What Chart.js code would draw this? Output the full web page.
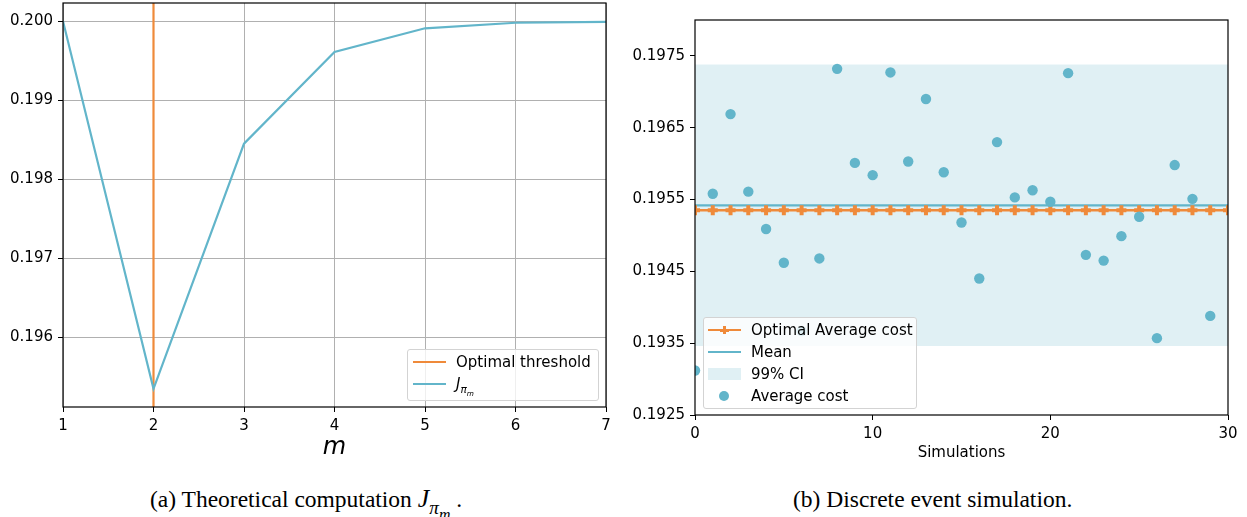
<!DOCTYPE html>
<html>
<head>
<meta charset="utf-8">
<script src="https://cdn.jsdelivr.net/npm/chart.js@4.4.0/dist/chart.umd.min.js"></script>
<style>
    body { margin: 0; background: #fff; width: 1247px; height: 517px; position: relative; overflow: hidden; font-family: "DejaVu Sans", sans-serif; color: #000; }
    canvas { position: absolute; top: 0; }
    #chartA { left: 0; }
    #chartB { left: 620px; }
    .legend { position: absolute; background: rgba(255,255,255,0.8); border: 1px solid #d3d3d3; border-radius: 3px; font-size: 15px; }
    .row { position: absolute; left: 0; right: 0; height: 22px; line-height: 22px; }
    .row .txt { position: absolute; white-space: nowrap; }
    .hline { position: absolute; height: 2px; top: 10px; }
    .caption { position: absolute; top: 485px; line-height: 28px; font-family: "Liberation Serif", "Times New Roman", serif; font-size: 23.5px; white-space: nowrap; }
    sub { font-size: 70%; vertical-align: -0.35em; line-height: 0; }
    .caption .mj { font-size: 110%; }
    .caption sub { font-size: 82%; }
</style>
</head>
<body>
<canvas id="chartA" width="620" height="470"></canvas>
<canvas id="chartB" width="627" height="470"></canvas>

<div class="legend" style="left:407px;top:349px;width:190px;height:50px;">
    <div class="row" style="top:1px;"><div class="hline" style="left:5px;width:33px;background:#ef8a3a;"></div><span class="txt" style="left:48px;">Optimal threshold</span></div>
    <div class="row" style="top:23px;"><div class="hline" style="left:5px;width:33px;background:#62b5ca;"></div><span class="txt" style="left:48px;font-style:italic;">J<sub>π<sub>m</sub></sub></span></div>
</div>

<div class="legend" style="left:703px;top:317px;width:212px;height:90px;">
    <div class="row" style="top:1px;">
        <div class="hline" style="left:4px;width:33px;background:#ef8a3a;"></div>
        <div style="position:absolute;left:16px;top:7px;width:9px;height:8px;">
            <div style="position:absolute;left:3px;top:0;width:3px;height:8px;background:#ef8a3a;"></div>
            <div style="position:absolute;left:0;top:2.5px;width:9px;height:3px;background:#ef8a3a;"></div>
        </div>
        <span class="txt" style="left:47px;">Optimal Average cost</span>
    </div>
    <div class="row" style="top:23px;"><div class="hline" style="left:4px;width:33px;background:#62b5ca;"></div><span class="txt" style="left:47px;">Mean</span></div>
    <div class="row" style="top:45px;"><div style="position:absolute;left:4px;top:5px;width:33px;height:12px;background:rgba(98,181,202,0.2);"></div><span class="txt" style="left:47px;">99% CI</span></div>
    <div class="row" style="top:67px;"><div style="position:absolute;left:15px;top:6px;width:10px;height:10px;border-radius:50%;background:#62b5ca;"></div><span class="txt" style="left:47px;">Average cost</span></div>
</div>

<div class="caption" style="left:150px;">(a) Theoretical computation <i class="mj">J</i><sub><i>π</i><sub><i>m</i></sub></sub> .</div>
<div class="caption" style="left:793px;">(b) Discrete event simulation.</div>

<script>
// (a) theoretical cost per threshold m
const mValues  = [1, 2, 3, 4, 5, 6, 7];
const jCost    = [0.20000, 0.19535, 0.19845, 0.19961, 0.19991, 0.19998, 0.19999];
const optimalM = 2;
const yRangeA  = [0.19512, 0.20023];
const yTicksA  = [0.196, 0.197, 0.198, 0.199, 0.200];
const xTicksA  = [1, 2, 3, 4, 5, 6, 7];

// (b) discrete event simulation
const simIndex = [0, 1, 2, 3, 4, 5, 6, 7, 8, 9, 10, 11, 12, 13, 14, 15, 16, 17, 18, 19, 20, 21, 22, 23, 24, 25, 26, 27, 28, 29];
const avgCost  = [0.19312, 0.19558, 0.19669, 0.19561, 0.19509, 0.19462, 0.19367, 0.19468, 0.19732, 0.19601,
                  0.19584, 0.19727, 0.19603, 0.19690, 0.19588, 0.19518, 0.19440, 0.19630, 0.19553, 0.19563,
                  0.19547, 0.19726, 0.19473, 0.19465, 0.19499, 0.19526, 0.19357, 0.19598, 0.19551, 0.19388];
const optimalX    = [0, 1, 2, 3, 4, 5, 6, 7, 8, 9, 10, 11, 12, 13, 14, 15, 16, 17, 18, 19, 20, 21, 22, 23, 24, 25, 26, 27, 28, 29, 30];
const optimalCost = 0.19535;
const meanCost    = 0.19542;
const ciBounds    = [0.19346, 0.19738];
const xRangeB     = [0, 30];
const yRangeB     = [0.1925, 0.1980];
const yTicksB     = [0.1925, 0.1935, 0.1945, 0.1955, 0.1965, 0.1975];
const xTicksB     = [0, 10, 20, 30];

const ORANGE = '#ef8a3a';
const TEAL   = '#62b5ca';

Chart.defaults.font.family = '"DejaVu Sans", sans-serif';
Chart.defaults.font.size = 15;
Chart.defaults.color = '#000';

const framePlugin = {
    id: 'frame',
    afterDatasetsDraw(chart) {
        const a = chart.chartArea, ctx = chart.ctx;
        ctx.save();
        ctx.strokeStyle = '#000';
        ctx.lineWidth = 1.2;
        ctx.strokeRect(a.left, a.top, a.right - a.left, a.bottom - a.top);
        ctx.restore();
    }
};

const fixTicks = list => scale => { scale.ticks = list.map(v => ({ value: v })); };
// fixed axis box size, no extra room reserved for overhanging labels
const fixSize = (w, h) => scale => {
    if (w) scale.width = w;
    if (h) scale.height = h;
    scale.paddingTop = scale.paddingBottom = scale.paddingLeft = scale.paddingRight = 0;
};

new Chart(document.getElementById('chartA'), {
    type: 'line',
    data: { datasets: [
        { label: 'J', data: mValues.map((m, i) => ({ x: m, y: jCost[i] })), borderColor: TEAL, borderWidth: 2.2, pointRadius: 0, clip: 0, order: 0 },
        { label: 'Optimal threshold', data: [{ x: optimalM, y: yRangeA[0] }, { x: optimalM, y: yRangeA[1] }], borderColor: ORANGE, borderWidth: 2.2, pointRadius: 0, clip: 0, order: 1 }
    ] },
    options: {
        responsive: false, animation: false, events: [],
        layout: { padding: { left: 0, right: 14, top: 3, bottom: 0 } },
        plugins: { legend: { display: false }, tooltip: { enabled: false } },
        scales: {
            x: { type: 'linear', min: 1, max: 7, afterBuildTicks: fixTicks(xTicksA), afterFit: fixSize(0, 63),
                 grid: { color: '#b0b0b0', lineWidth: 1, tickColor: '#000', tickLength: 5 }, border: { display: false },
                 ticks: { padding: 5, callback: v => String(v) },
                 title: { display: true, text: 'm', font: { size: 24, style: 'italic' }, padding: { top: 0, bottom: 8 } } },
            y: { min: yRangeA[0], max: yRangeA[1], afterBuildTicks: fixTicks(yTicksA), afterFit: fixSize(63, 0),
                 grid: { color: '#b0b0b0', lineWidth: 1, tickColor: '#000', tickLength: 5 }, border: { display: false },
                 ticks: { padding: 5, callback: v => v.toFixed(3) } }
        }
    },
    plugins: [framePlugin]
});

new Chart(document.getElementById('chartB'), {
    type: 'line',
    data: { datasets: [
        { label: 'Average cost', data: simIndex.map((s, i) => ({ x: s, y: avgCost[i] })), showLine: false, pointRadius: 5.2, pointBackgroundColor: TEAL, pointBorderWidth: 0, clip: 0, order: 0 },
        { label: 'Optimal Average cost', data: optimalX.map(x => ({ x, y: optimalCost })), borderColor: ORANGE, borderWidth: 2.4, pointStyle: 'cross', pointRadius: 5, pointBorderWidth: 4, pointBorderColor: ORANGE, clip: 0, order: 1 },
        { label: 'Mean', data: xRangeB.map(x => ({ x, y: meanCost })), borderColor: TEAL, borderWidth: 2.2, pointRadius: 0, clip: 0, order: 2 },
        { label: 'CI high', data: xRangeB.map(x => ({ x, y: ciBounds[1] })), borderWidth: 0, borderColor: 'rgba(0,0,0,0)', pointRadius: 0, fill: '+1', backgroundColor: 'rgba(98,181,202,0.2)', clip: 0, order: 3 },
        { label: 'CI low', data: xRangeB.map(x => ({ x, y: ciBounds[0] })), borderWidth: 0, borderColor: 'rgba(0,0,0,0)', pointRadius: 0, clip: 0, order: 4 }
    ] },
    options: {
        responsive: false, animation: false, events: [],
        layout: { padding: { left: 0, right: 19, top: 20, bottom: 0 } },
        plugins: { legend: { display: false }, tooltip: { enabled: false } },
        scales: {
            x: { type: 'linear', min: xRangeB[0], max: xRangeB[1], afterBuildTicks: fixTicks(xTicksB), afterFit: fixSize(0, 55),
                 grid: { drawOnChartArea: false, tickColor: '#000', tickLength: 5 }, border: { display: false },
                 ticks: { padding: 5, callback: v => String(v) },
                 title: { display: true, text: 'Simulations', font: { size: 15 }, padding: { top: 0, bottom: 8 } } },
            y: { min: yRangeB[0], max: yRangeB[1], afterBuildTicks: fixTicks(yTicksB), afterFit: fixSize(75, 0),
                 grid: { drawOnChartArea: false, tickColor: '#000', tickLength: 5 }, border: { display: false },
                 ticks: { padding: 5, callback: v => v.toFixed(4) } }
        }
    },
    plugins: [framePlugin]
});
</script>
</body>
</html>
